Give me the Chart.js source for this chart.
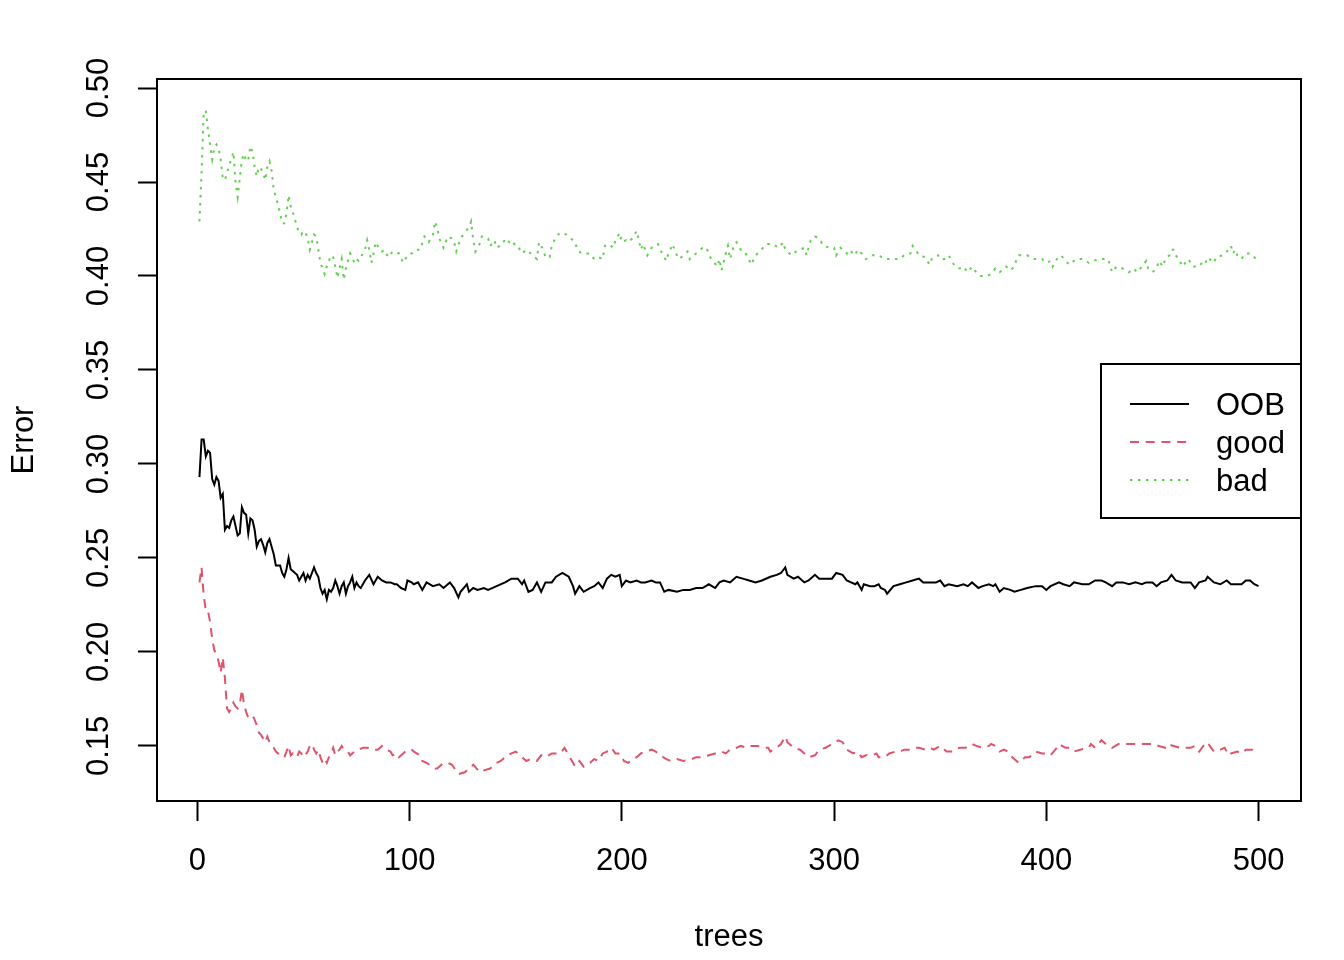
<!DOCTYPE html>
<html>
<head>
<meta charset="utf-8">
<script src="https://cdn.jsdelivr.net/npm/chart.js@4.4.1/dist/chart.umd.min.js"></script>
<style>
  html, body { margin: 0; padding: 0; background: #ffffff; }
  #wrap { width: 1344px; height: 960px; }
</style>
</head>
<body>
<div id="wrap"><canvas id="c" width="1344" height="960"></canvas></div>
<script>
// ---------------- data ----------------
const seriesNames = ["OOB", "good", "bad"];
const xTicks = [0, 100, 200, 300, 400, 500];
const yTicks = [0.15, 0.20, 0.25, 0.30, 0.35, 0.40, 0.45, 0.50];

const oobTrees = [1,2,3,4,5,6,7,8,9,10,11,12,13,14,15,16,17,18,19,20,21,22,23,24,25,26,27,28,29,30,31,32,33,34,35,36,37,38,39,40,41,42,43,44,45,46,47,48,49,50,51,52,53,54,55,56,57,58,59,60,61,62,63,64,65,66,67,68,69,70,71,72,73,74,75,76,77,79,81,83,85,87,89,91,93,94,96,98,99,101,102,104,106,108,111,114,116,119,121,123,124,127,128,130,132,135,137,141,145,148,151,153,154,156,158,160,162,164,167,169,172,175,177,178,180,182,185,187,189,191,193,195,197,199,200,202,204,207,209,211,214,216,218,220,222,226,229,232,235,238,241,244,246,248,251,254,257,260,263,266,270,273,275,277,278,281,283,286,288,291,293,297,299,301,304,306,308,310,311,313,314,317,319,321,322,324,325,328,331,334,337,340,342,345,348,350,352,354,358,361,363,365,368,370,373,375,376,378,380,383,385,388,391,395,398,400,402,406,408,411,413,417,420,423,426,428,431,433,436,439,442,445,447,450,452,454,457,459,461,464,468,470,472,475,476,479,482,485,487,490,492,494,496,498,500];
const oobErr = [0.293,0.313,0.313,0.304,0.307,0.306,0.292,0.289,0.293,0.291,0.282,0.284,0.265,0.267,0.266,0.270,0.272,0.267,0.262,0.263,0.277,0.274,0.273,0.263,0.271,0.270,0.265,0.256,0.259,0.260,0.257,0.253,0.258,0.260,0.256,0.252,0.246,0.246,0.246,0.242,0.240,0.244,0.250,0.244,0.243,0.242,0.241,0.238,0.240,0.242,0.238,0.241,0.239,0.242,0.245,0.242,0.240,0.234,0.231,0.233,0.228,0.233,0.232,0.234,0.238,0.235,0.231,0.235,0.237,0.231,0.235,0.237,0.240,0.234,0.237,0.235,0.234,0.238,0.241,0.236,0.240,0.238,0.237,0.237,0.236,0.236,0.234,0.233,0.238,0.237,0.236,0.237,0.233,0.237,0.235,0.236,0.234,0.237,0.234,0.229,0.232,0.236,0.232,0.234,0.233,0.234,0.233,0.235,0.237,0.239,0.239,0.236,0.238,0.232,0.233,0.237,0.232,0.237,0.237,0.240,0.242,0.240,0.235,0.231,0.235,0.232,0.234,0.235,0.237,0.234,0.239,0.241,0.240,0.241,0.235,0.238,0.237,0.238,0.237,0.237,0.238,0.237,0.237,0.232,0.233,0.232,0.233,0.233,0.234,0.234,0.236,0.234,0.237,0.238,0.237,0.240,0.239,0.238,0.237,0.238,0.240,0.241,0.242,0.245,0.241,0.239,0.240,0.237,0.238,0.241,0.239,0.239,0.239,0.242,0.241,0.238,0.237,0.236,0.237,0.233,0.236,0.235,0.235,0.236,0.234,0.233,0.231,0.235,0.236,0.237,0.238,0.239,0.237,0.237,0.237,0.238,0.235,0.236,0.235,0.236,0.235,0.237,0.234,0.235,0.236,0.235,0.236,0.232,0.234,0.233,0.232,0.233,0.234,0.235,0.235,0.233,0.235,0.237,0.236,0.235,0.237,0.236,0.236,0.238,0.238,0.237,0.235,0.237,0.237,0.236,0.237,0.236,0.237,0.237,0.235,0.237,0.238,0.241,0.238,0.237,0.237,0.234,0.237,0.238,0.240,0.237,0.236,0.238,0.236,0.236,0.236,0.238,0.238,0.236,0.235];

const goodTrees = [1,2,3,4,5,6,7,8,9,10,11,12,13,14,15,16,17,18,19,20,21,22,23,24,25,26,27,28,29,30,31,32,33,34,35,36,37,38,39,40,41,42,43,44,45,46,47,48,49,50,52,53,54,55,56,57,58,59,60,61,62,63,64,65,66,67,68,69,71,72,74,76,78,80,83,85,87,89,91,92,94,95,97,99,101,102,105,106,108,112,113,116,118,120,123,126,128,130,133,135,138,141,143,146,148,150,153,155,157,160,162,164,167,169,171,173,175,177,178,180,182,185,187,189,191,193,195,197,199,201,203,205,207,209,211,214,216,218,221,223,226,229,233,235,237,241,244,247,249,251,254,256,259,261,264,266,269,270,273,275,277,278,281,284,286,288,291,293,296,299,302,304,306,309,311,313,315,318,320,321,324,326,329,331,333,336,338,340,343,345,347,350,353,356,359,362,365,367,370,373,374,376,378,380,382,384,387,390,392,395,398,400,402,405,406,409,411,413,416,420,421,423,426,428,431,434,437,441,444,447,450,453,456,457,460,463,465,468,470,472,474,476,477,479,482,484,486,487,490,492,494,497,498,500];
const goodErr = [0.237,0.245,0.230,0.222,0.222,0.216,0.207,0.201,0.199,0.195,0.189,0.197,0.186,0.170,0.168,0.170,0.173,0.171,0.170,0.172,0.180,0.172,0.168,0.165,0.166,0.166,0.164,0.161,0.157,0.156,0.154,0.152,0.155,0.152,0.150,0.149,0.147,0.146,0.146,0.145,0.144,0.147,0.150,0.145,0.146,0.145,0.144,0.147,0.146,0.144,0.147,0.150,0.151,0.148,0.146,0.148,0.144,0.141,0.143,0.141,0.144,0.146,0.149,0.145,0.147,0.148,0.150,0.148,0.147,0.145,0.147,0.148,0.149,0.149,0.148,0.148,0.150,0.148,0.147,0.145,0.146,0.144,0.146,0.148,0.148,0.147,0.145,0.142,0.141,0.138,0.138,0.141,0.141,0.140,0.135,0.136,0.138,0.140,0.136,0.137,0.138,0.141,0.142,0.145,0.146,0.147,0.144,0.142,0.143,0.142,0.145,0.144,0.146,0.146,0.146,0.149,0.145,0.141,0.139,0.142,0.139,0.141,0.143,0.142,0.146,0.147,0.149,0.146,0.146,0.142,0.141,0.143,0.144,0.146,0.147,0.148,0.147,0.145,0.143,0.142,0.143,0.142,0.143,0.144,0.144,0.145,0.146,0.147,0.146,0.148,0.149,0.150,0.149,0.150,0.150,0.149,0.149,0.147,0.149,0.151,0.155,0.152,0.149,0.148,0.146,0.144,0.145,0.148,0.149,0.151,0.153,0.152,0.148,0.146,0.147,0.144,0.145,0.145,0.146,0.144,0.144,0.146,0.147,0.147,0.148,0.148,0.149,0.149,0.148,0.149,0.148,0.150,0.147,0.147,0.149,0.149,0.151,0.150,0.149,0.150,0.151,0.150,0.147,0.148,0.147,0.144,0.141,0.144,0.144,0.147,0.146,0.146,0.145,0.149,0.151,0.149,0.149,0.147,0.148,0.149,0.151,0.149,0.153,0.151,0.149,0.151,0.151,0.151,0.151,0.151,0.151,0.150,0.149,0.151,0.150,0.149,0.149,0.149,0.150,0.147,0.150,0.152,0.150,0.147,0.148,0.149,0.145,0.146,0.147,0.146,0.148,0.148,0.147,0.146];

const badTrees = [1,2,3,4,5,6,7,8,9,10,11,12,13,14,15,16,17,18,19,20,21,22,23,24,25,26,27,28,29,30,31,32,33,34,35,36,37,38,39,40,41,42,43,44,45,46,47,48,49,50,51,52,53,54,55,56,57,58,59,60,61,62,63,64,65,66,67,68,69,70,71,72,73,74,75,76,77,78,79,80,81,82,83,84,85,86,87,88,90,92,95,97,99,101,103,105,107,109,111,112,113,114,116,118,120,121,122,124,126,128,129,130,131,133,134,135,137,138,140,141,144,145,147,148,150,151,153,155,156,158,160,161,163,164,166,167,169,171,174,176,178,179,181,185,187,189,191,192,194,196,197,199,200,202,203,205,207,208,209,210,212,214,217,219,221,222,224,225,227,228,231,232,234,238,240,241,243,245,246,247,249,250,251,253,254,256,257,259,261,263,265,268,271,274,276,277,280,282,284,286,287,289,291,293,295,298,300,301,303,304,306,307,310,311,314,315,318,321,324,327,331,333,336,337,339,340,343,345,346,349,350,352,354,355,357,359,361,363,365,367,369,372,374,376,378,380,381,383,385,386,387,391,394,398,400,402,403,405,407,409,411,414,417,420,422,425,429,430,431,433,436,439,441,443,445,447,448,449,450,452,453,455,456,458,459,460,461,463,464,467,469,472,474,475,476,478,479,480,483,486,487,488,489,490,492,493,494,496,497,499,500];
const badErr = [0.429,0.455,0.487,0.488,0.478,0.470,0.462,0.468,0.470,0.468,0.462,0.452,0.451,0.455,0.459,0.462,0.466,0.450,0.442,0.452,0.462,0.465,0.461,0.462,0.469,0.466,0.458,0.453,0.458,0.457,0.455,0.451,0.458,0.461,0.456,0.446,0.442,0.438,0.433,0.428,0.428,0.433,0.443,0.437,0.434,0.430,0.426,0.423,0.422,0.424,0.423,0.420,0.414,0.418,0.422,0.421,0.414,0.407,0.404,0.401,0.405,0.408,0.411,0.410,0.405,0.399,0.404,0.409,0.398,0.404,0.408,0.412,0.410,0.407,0.409,0.408,0.410,0.412,0.414,0.419,0.414,0.407,0.412,0.418,0.416,0.414,0.413,0.414,0.410,0.413,0.412,0.407,0.411,0.412,0.414,0.414,0.421,0.418,0.422,0.429,0.426,0.420,0.415,0.421,0.420,0.418,0.413,0.420,0.423,0.426,0.429,0.419,0.413,0.417,0.421,0.421,0.420,0.416,0.419,0.415,0.417,0.420,0.418,0.419,0.416,0.416,0.412,0.414,0.413,0.411,0.409,0.418,0.414,0.410,0.410,0.416,0.421,0.423,0.422,0.420,0.418,0.414,0.412,0.412,0.409,0.410,0.409,0.416,0.417,0.415,0.419,0.423,0.418,0.419,0.418,0.420,0.424,0.419,0.414,0.417,0.411,0.415,0.417,0.412,0.408,0.412,0.417,0.413,0.409,0.410,0.413,0.409,0.411,0.415,0.415,0.411,0.408,0.405,0.409,0.403,0.412,0.416,0.409,0.417,0.418,0.414,0.414,0.411,0.406,0.411,0.413,0.417,0.417,0.415,0.418,0.414,0.411,0.413,0.414,0.415,0.411,0.419,0.421,0.420,0.416,0.415,0.415,0.411,0.415,0.414,0.412,0.414,0.411,0.414,0.411,0.409,0.411,0.411,0.409,0.409,0.409,0.411,0.412,0.416,0.413,0.411,0.410,0.406,0.409,0.411,0.409,0.409,0.411,0.409,0.405,0.404,0.405,0.402,0.405,0.402,0.400,0.400,0.401,0.404,0.402,0.404,0.405,0.403,0.405,0.409,0.411,0.411,0.409,0.409,0.407,0.408,0.405,0.409,0.411,0.408,0.406,0.409,0.409,0.407,0.408,0.409,0.409,0.406,0.402,0.405,0.404,0.402,0.404,0.402,0.405,0.408,0.404,0.403,0.402,0.404,0.408,0.405,0.409,0.411,0.414,0.414,0.411,0.408,0.405,0.409,0.405,0.405,0.408,0.407,0.410,0.408,0.407,0.410,0.411,0.414,0.416,0.412,0.414,0.411,0.409,0.411,0.412,0.412,0.411,0.409,0.409];

// ---------------- chart ----------------
const FONT = "'Liberation Sans', Arial, 'DejaVu Sans', sans-serif";
const FSIZE = 31;
const toXY = (xs, ys) => xs.map((x, i) => ({ x: x, y: ys[i] }));

const boxPlugin = {
  id: 'rbox',
  afterDraw(chart) {
    const { ctx, chartArea: a } = chart;
    ctx.save();
    ctx.strokeStyle = '#000';
    ctx.lineWidth = 2;
    ctx.strokeRect(Math.round(a.left), Math.round(a.top), Math.round(a.right - a.left), Math.round(a.bottom - a.top));
    // legend (R style, drawn from dataset properties)
    const lx = 1101, ly = 364, lw = 200, lh = 154;
    ctx.fillStyle = '#fff';
    ctx.fillRect(lx, ly, lw, lh);
    ctx.strokeRect(lx, ly, lw, lh);
    chart.data.datasets.forEach((ds, i) => {
      const y = 404 + i * 38;
      ctx.save();
      ctx.strokeStyle = ds.borderColor;
      ctx.lineWidth = ds.borderWidth;
      ctx.lineCap = ds.borderCapStyle || 'butt';
      ctx.setLineDash(ds.borderDash || []);
      ctx.beginPath();
      ctx.moveTo(1130, y);
      ctx.lineTo(1189, y);
      ctx.stroke();
      ctx.restore();
      ctx.fillStyle = '#000';
      ctx.font = FSIZE + 'px ' + FONT;
      ctx.textBaseline = 'middle';
      ctx.textAlign = 'left';
      ctx.fillText(ds.label, 1216, y + 2);
    });
    ctx.restore();
  }
};

new Chart(document.getElementById('c'), {
  type: 'line',
  data: {
    datasets: [
      { label: seriesNames[0], data: toXY(oobTrees, oobErr), borderColor: '#000000', borderWidth: 2, pointRadius: 0, tension: 0, borderCapStyle: 'butt' },
      { label: seriesNames[1], data: toXY(goodTrees, goodErr), borderColor: '#DF536B', borderWidth: 2, pointRadius: 0, tension: 0, borderDash: [9, 6.7], borderCapStyle: 'butt' },
      { label: seriesNames[2], data: toXY(badTrees, badErr), borderColor: '#61D04F', borderWidth: 2, pointRadius: 0, tension: 0, borderDash: [2.5, 5.5], borderCapStyle: 'butt' }
    ]
  },
  options: {
    responsive: false,
    animation: false,
    devicePixelRatio: 1,
    layout: { padding: { left: 0, right: 43, top: 79, bottom: 0 } },
    plugins: { legend: { display: false }, tooltip: { enabled: false } },
    scales: {
      x: {
        type: 'linear',
        min: -19, max: 520,
        afterBuildTicks: (s) => { s.ticks = xTicks.map(v => ({ value: v })); },
        afterFit: (s) => { s.height = 159; },
        grid: { display: true, drawOnChartArea: false, drawTicks: true, tickLength: 20, tickWidth: 2, tickColor: '#000' },
        border: { display: true, color: '#000', width: 2 },
        ticks: { color: '#000', font: { family: FONT, size: FSIZE }, padding: 22, maxRotation: 0, autoSkip: false },
        title: { display: true, text: 'trees', color: '#000', font: { family: FONT, size: FSIZE }, padding: { top: 0, bottom: 4 } }
      },
      y: {
        type: 'linear',
        min: 0.1207, max: 0.5048,
        afterBuildTicks: (s) => { s.ticks = yTicks.map(v => ({ value: v })); },
        afterFit: (s) => { s.width = 157; },
        grid: { display: true, drawOnChartArea: false, drawTicks: true, tickLength: 19, tickWidth: 2, tickColor: '#000' },
        border: { display: true, color: '#000', width: 2 },
        ticks: { color: '#000', font: { family: FONT, size: FSIZE }, padding: 8, minRotation: 90, maxRotation: 90, crossAlign: 'center', autoSkip: false,
                 callback: (v) => Number(v).toFixed(2) },
        title: { display: true, text: 'Error', color: '#000', font: { family: FONT, size: FSIZE }, padding: { top: 6, bottom: 0 } }
      }
    }
  },
  plugins: [boxPlugin]
});
</script>
</body>
</html>
